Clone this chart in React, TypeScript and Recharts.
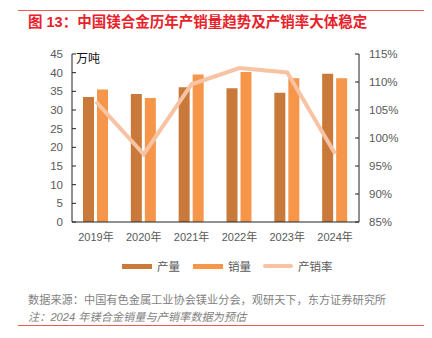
import React from "react";
import { ComposedChart, Bar, Line, XAxis, YAxis } from "recharts";

const years = ["2019年", "2020年", "2021年", "2022年", "2023年", "2024年"];
const output = [33.5, 34.3, 36.1, 35.8, 34.6, 39.7];
const sales = [35.5, 33.2, 39.5, 40.2, 38.5, 38.5];
const rate = [106.5, 97.1, 109.6, 112.5, 111.7, 97.2];
const leftTicks = [0, 5, 10, 15, 20, 25, 30, 35, 40, 45];
const rightTicks = [85, 90, 95, 100, 105, 110, 115];

const C_OUT = "#C97A3A";
const C_SALE = "#F5964A";
const C_RATE = "#F8C3A3";
const FONT = '"Liberation Sans", "Noto Sans CJK SC", sans-serif';

const data = years.map((y, i) => ({ year: y, output: output[i], sales: sales[i], rate: rate[i] }));

function LeftTick(props: any) {
  const { x, y, payload } = props;
  return (
    <g>
      <line x1={x + 9} x2={x + 13} y1={y} y2={y} stroke="#222" />
      <text x={x} y={y} dy={4} textAnchor="end" fontSize={11.5} fill="#595959">
        {payload.value}
      </text>
    </g>
  );
}

function RightTick(props: any) {
  const { x, y, payload } = props;
  return (
    <g>
      <line x1={x - 10} x2={x - 14} y1={y} y2={y} stroke="#222" />
      <text x={x} y={y} dy={4} textAnchor="start" fontSize={11.5} fill="#595959">
        {payload.value}%
      </text>
    </g>
  );
}

const legendItems = [
  { name: "产量", color: C_OUT, h: 5, left: 122 },
  { name: "销量", color: C_SALE, h: 5, left: 193 },
  { name: "产销率", color: C_RATE, h: 4, left: 263 },
];

export default function App() {
  return (
    <div style={{ position: "relative", width: 432, height: 338, margin: -8, background: "#fff", fontFamily: FONT, overflow: "hidden" }}>
      <div style={{ position: "absolute", left: 18, top: 10, width: 412, height: 1, background: "#EE5A55" }} />
      <div style={{ position: "absolute", left: 28, top: 13, fontSize: 14.5, fontWeight: "bold", color: "#E8222B", whiteSpace: "nowrap", lineHeight: "18px" }}>
        图 13：中国镁合金历年产销量趋势及产销率大体稳定
      </div>
      <ComposedChart
        width={432}
        height={338}
        data={data}
        margin={{ top: 54, left: 32, right: 23, bottom: 86 }}
        barSize={11}
        barGap={3}
        style={{ position: "absolute", left: 0, top: 0, fontFamily: FONT }}
      >
        <XAxis
          dataKey="year"
          axisLine={{ stroke: "#222" }}
          tickLine={false}
          tickSize={0}
          tickMargin={11}
          tick={{ fontSize: 11, fill: "#595959" }}
          height={30}
        />
        <YAxis
          yAxisId="left"
          domain={[0, 45]}
          ticks={leftTicks}
          width={40}
          axisLine={{ stroke: "#222" }}
          tickLine={false}
          tickSize={0}
          tickMargin={9}
          tick={<LeftTick />}
          interval={0}
        />
        <YAxis
          yAxisId="right"
          orientation="right"
          domain={[85, 115]}
          ticks={rightTicks}
          width={50}
          axisLine={{ stroke: "#222" }}
          tickLine={false}
          tickSize={0}
          tickMargin={10}
          tick={<RightTick />}
          interval={0}
        />
        <Bar yAxisId="left" dataKey="output" name="产量" fill={C_OUT} isAnimationActive={false} />
        <Bar yAxisId="left" dataKey="sales" name="销量" fill={C_SALE} isAnimationActive={false} />
        <Line
          yAxisId="right"
          dataKey="rate"
          name="产销率"
          stroke={C_RATE}
          strokeWidth={4}
          dot={false}
          type="linear"
          isAnimationActive={false}
        />
      </ComposedChart>
      <div style={{ position: "absolute", left: 76, top: 51, fontSize: 12, color: "#111", lineHeight: "16px" }}>万吨</div>
      {legendItems.map((it) => (
        <div key={it.name} style={{ position: "absolute", left: it.left, top: 258, height: 16, display: "flex", alignItems: "center", fontSize: 11.5, color: "#595959" }}>
          <span style={{ display: "inline-block", width: 30, height: it.h, background: it.color, marginRight: 5, borderRadius: it.h === 4 ? 2 : 0 }} />
          {it.name}
        </div>
      ))}
      <div style={{ position: "absolute", left: 28, top: 292, fontSize: 11.2, color: "#7F7F7F", whiteSpace: "nowrap", lineHeight: "16px" }}>
        数据来源：中国有色金属工业协会镁业分会，观研天下，东方证券研究所
      </div>
      <div style={{ position: "absolute", left: 28, top: 309, fontSize: 11.2, color: "#7F7F7F", fontStyle: "italic", whiteSpace: "nowrap", lineHeight: "16px" }}>
        注：2024 年镁合金销量与产销率数据为预估
      </div>
      <div style={{ position: "absolute", left: 18, top: 325, width: 412, height: 1, background: "#EE5A55" }} />
    </div>
  );
}
